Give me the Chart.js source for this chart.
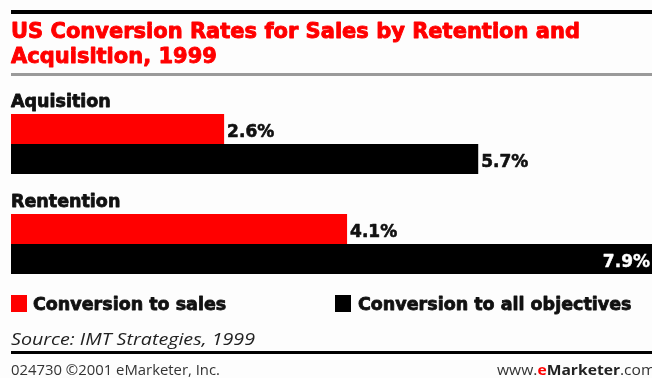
<!DOCTYPE html>
<html><head><meta charset="utf-8">
<script src="https://cdn.jsdelivr.net/npm/chart.js@4.4.0/dist/chart.umd.min.js"></script>
<style>html,body{margin:0;padding:0;background:#fdfdfd}canvas{display:block}</style>
</head><body>
<canvas id="c" width="652" height="378"></canvas>
<script>
const categories = ['Aquisition', 'Rentention'];
const seriesNames = ['Conversion to sales', 'Conversion to all objectives'];
const salesValues = [2.6, 4.1];
const allObjectivesValues = [5.7, 7.9];
const seriesColors = ['#ff0000', '#000000'];
const titleLines = ['US Conversion Rates for Sales by Retention and', 'Acquisition, 1999'];
const sourceText = 'Source: IMT Strategies, 1999';
const footerLeft = '024730 \u00A92001 eMarketer, Inc.';
const X_MAX = 7.82;

const BOLD = '"DejaVu Sans", sans-serif';
const REG = '"Open Sans", sans-serif';

function heavyText(ctx, txt, x, y, color, stroke) {
  ctx.fillStyle = color;
  ctx.fillText(txt, x, y);
  ctx.strokeStyle = color;
  ctx.lineWidth = stroke;
  ctx.lineJoin = 'round';
  ctx.strokeText(txt, x, y);
}

function fitText(ctx, txt, x, y, targetW) {
  const w = ctx.measureText(txt).width;
  ctx.save();
  ctx.translate(x, y);
  ctx.scale(targetW / w, 1);
  ctx.fillText(txt, 0, 0);
  ctx.restore();
}

const decor = {
  id: 'decor',
  beforeDraw(chart) {
    const ctx = chart.ctx;
    ctx.save();
    ctx.fillStyle = '#fdfdfd';
    ctx.fillRect(0, 0, chart.width, chart.height);
    ctx.fillStyle = '#000';
    ctx.fillRect(11, 10, 641, 4);
    ctx.font = 'bold 21px ' + BOLD;
    ctx.textAlign = 'left';
    ctx.textBaseline = 'alphabetic';
    heavyText(ctx, titleLines[0], 11, 38, '#ff0000', 0.9);
    heavyText(ctx, titleLines[1], 11, 63, '#ff0000', 0.9);
    ctx.fillStyle = '#9a9a9a';
    ctx.fillRect(11, 73, 641, 3);
    ctx.restore();
  },
  afterDatasetsDraw(chart) {
    const ctx = chart.ctx;
    const area = chart.chartArea;
    ctx.save();
    ctx.textBaseline = 'alphabetic';
    const firstMeta = chart.getDatasetMeta(0);
    ctx.font = 'bold 17.5px ' + BOLD;
    ctx.textAlign = 'left';
    firstMeta.data.forEach((bar, i) => {
      const top = bar.y - bar.height / 2;
      heavyText(ctx, categories[i], 11, top - 7, '#111', 0.8);
    });
    ctx.font = 'bold 17px ' + BOLD;
    chart.data.datasets.forEach((ds, di) => {
      const meta = chart.getDatasetMeta(di);
      meta.data.forEach((bar, i) => {
        const txt = ds.data[i].toFixed(1) + '%';
        const w = ctx.measureText(txt).width;
        if (bar.x + 4 + w > area.right) {
          ctx.textAlign = 'right';
          heavyText(ctx, txt, area.right - 2, bar.y + 7.5, '#fff', 0.4);
        } else {
          ctx.textAlign = 'left';
          heavyText(ctx, txt, bar.x + 3, bar.y + 7.5, '#111', 0.6);
        }
      });
    });
    ctx.restore();
  },
  afterDraw(chart) {
    const ctx = chart.ctx;
    ctx.save();
    ctx.textBaseline = 'alphabetic';
    ctx.textAlign = 'left';
    const legendX = [[11, 33], [335, 358]];
    ctx.font = 'bold 17.5px ' + BOLD;
    chart.data.datasets.forEach((ds, di) => {
      ctx.fillStyle = ds.backgroundColor;
      ctx.fillRect(legendX[di][0], 295, 16, 17);
      heavyText(ctx, ds.label, legendX[di][1], 310, '#111', 0.8);
    });
    ctx.font = 'italic 17px ' + REG;
    ctx.fillStyle = '#222';
    fitText(ctx, sourceText, 11, 345, 244);
    ctx.fillStyle = '#000';
    ctx.fillRect(11, 351, 641, 3);
    ctx.font = '14px ' + REG;
    ctx.fillStyle = '#333';
    fitText(ctx, footerLeft, 11, 375, 209);
    const parts = [['www.', '14px ' + REG, '#333'], ['e', 'bold 14px ' + REG, '#ff0000'], ['Marketer', 'bold 14px ' + REG, '#222'], ['.com', '14px ' + REG, '#333']];
    let natural = 0;
    parts.slice(0, 3).forEach(p => { ctx.font = p[1]; natural += ctx.measureText(p[0]).width; });
    const sx = 123 / natural;
    let x = 497;
    parts.forEach(p => {
      ctx.font = p[1];
      ctx.fillStyle = p[2];
      const w = ctx.measureText(p[0]).width;
      ctx.save();
      ctx.translate(x, 375);
      ctx.scale(sx, 1);
      ctx.fillText(p[0], 0, 0);
      ctx.restore();
      x += w * sx;
    });
    ctx.restore();
  }
};

new Chart(document.getElementById('c'), {
  type: 'bar',
  data: {
    labels: categories,
    datasets: [
      { label: seriesNames[0], data: salesValues, backgroundColor: seriesColors[0], borderWidth: 0, categoryPercentage: 0.6, barPercentage: 1.0 },
      { label: seriesNames[1], data: allObjectivesValues, backgroundColor: seriesColors[1], borderWidth: 0, categoryPercentage: 0.6, barPercentage: 1.0 }
    ]
  },
  options: {
    indexAxis: 'y',
    responsive: false,
    animation: false,
    devicePixelRatio: 1,
    layout: { padding: { left: 11, right: 0, top: 94, bottom: 84 } },
    scales: {
      x: { display: false, min: 0, max: X_MAX },
      y: { display: false }
    },
    plugins: { legend: { display: false }, tooltip: { enabled: false } }
  },
  plugins: [decor]
});
</script>
</body></html>
